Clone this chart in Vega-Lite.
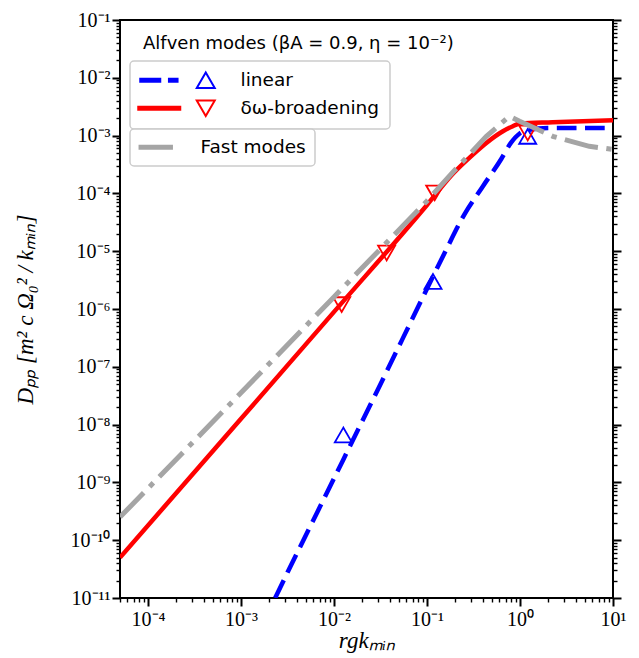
{
  "$schema": "https://vega.github.io/schema/vega-lite/v6.json",
  "width": 493,
  "height": 578,
  "autosize": "none",
  "padding": {"left": 120, "top": 20, "right": 26, "bottom": 60},
  "background": "white",
  "title": {"text": "Alfven modes (βA = 0.9, η = 10⁻²)", "anchor": "start", "frame": "group", "orient": "top", "offset": -43, "dx": 23, "font": "DejaVu Sans", "fontSize": 18, "fontWeight": "normal", "color": "black"},
  "datasets": {
    "curves": [
      {"series": "linear", "x": 0.00233, "y": 1e-11},
      {"series": "linear", "x": 0.00316, "y": 2.75e-11},
      {"series": "linear", "x": 0.01, "y": 1.17e-9},
      {"series": "linear", "x": 0.0316, "y": 5.01e-8},
      {"series": "linear", "x": 0.1, "y": 2.24e-6},
      {"series": "linear", "x": 0.158, "y": 1.0e-5},
      {"series": "linear", "x": 0.251, "y": 4.27e-5},
      {"series": "linear", "x": 0.398, "y": 1.32e-4},
      {"series": "linear", "x": 0.631, "y": 3.98e-4},
      {"series": "linear", "x": 0.794, "y": 7.41e-4},
      {"series": "linear", "x": 1.0, "y": 1.10e-3},
      {"series": "linear", "x": 1.26, "y": 1.26e-3},
      {"series": "linear", "x": 2.0, "y": 1.35e-3},
      {"series": "linear", "x": 10, "y": 1.36e-3},
      {"series": "δω-broadening", "x": 5e-5, "y": 5.01e-11},
      {"series": "δω-broadening", "x": 0.001, "y": 1.259e-8},
      {"series": "δω-broadening", "x": 0.01, "y": 8.91e-7},
      {"series": "δω-broadening", "x": 0.1, "y": 6.31e-5},
      {"series": "δω-broadening", "x": 0.19, "y": 2.19e-4},
      {"series": "δω-broadening", "x": 0.316, "y": 4.79e-4},
      {"series": "δω-broadening", "x": 0.435, "y": 7.46e-4},
      {"series": "δω-broadening", "x": 0.655, "y": 1.186e-3},
      {"series": "δω-broadening", "x": 0.838, "y": 1.449e-3},
      {"series": "δω-broadening", "x": 1.0, "y": 1.622e-3},
      {"series": "δω-broadening", "x": 2.24, "y": 1.698e-3},
      {"series": "δω-broadening", "x": 10, "y": 1.841e-3},
      {"series": "Fast modes", "x": 5e-5, "y": 2.51e-10},
      {"series": "Fast modes", "x": 0.001, "y": 3.55e-8},
      {"series": "Fast modes", "x": 0.01, "y": 1.62e-6},
      {"series": "Fast modes", "x": 0.1, "y": 7.41e-5},
      {"series": "Fast modes", "x": 0.19, "y": 2.34e-4},
      {"series": "Fast modes", "x": 0.435, "y": 9.73e-4},
      {"series": "Fast modes", "x": 0.77, "y": 2.16e-3},
      {"series": "Fast modes", "x": 0.99, "y": 1.77e-3},
      {"series": "Fast modes", "x": 2.25, "y": 9.73e-4},
      {"series": "Fast modes", "x": 5.56, "y": 6.53e-4},
      {"series": "Fast modes", "x": 10, "y": 5.75e-4}
    ],
    "markers": [
      {"series": "linear", "x": 0.0126, "y": 6.6e-9},
      {"series": "linear", "x": 0.116, "y": 3.0e-6},
      {"series": "linear", "x": 1.21, "y": 9.7e-4},
      {"series": "δω-broadening", "x": 0.0121, "y": 1.19e-6},
      {"series": "δω-broadening", "x": 0.0368, "y": 9.3e-6},
      {"series": "δω-broadening", "x": 0.121, "y": 1.02e-4},
      {"series": "δω-broadening", "x": 1.21, "y": 1.11e-3}
    ],
    "legendAlfven": [
      {"series": "linear"},
      {"series": "δω-broadening"}
    ],
    "legendFast": [
      {"series": "Fast modes"}
    ]
  },
  "layer": [
    {
      "data": {"name": "curves"},
      "transform": [{"filter": "datum.series === 'linear'"}],
      "mark": {"type": "line", "stroke": "#0000ff", "strokeWidth": 4.5, "strokeDash": [19.7, 8.5], "interpolate": "monotone", "clip": true},
      "encoding": {
        "x": {"field": "x", "type": "quantitative", "scale": {"type": "log", "domain": [5e-5, 10], "nice": false},
          "axis": {"values": [0.0001, 0.001, 0.01, 0.1, 1, 10], "domain": false, "ticks": true, "tickSize": 8, "tickColor": "#000000", "tickWidth": 2, "labelPadding": 3.5,
            "labelExpr": "['10⁻⁴','10⁻³','10⁻²','10⁻¹','10⁰','10¹'][round(log(datum.value)/LN10)+4]",
            "title": "rgkₘᵢₙ", "titleX": 246.5, "titleY": 31}},
        "y": {"field": "y", "type": "quantitative", "scale": {"type": "log", "domain": [1e-11, 0.1], "nice": false},
          "axis": {"values": [1e-11,2e-11,3e-11,4e-11,5e-11,6e-11,7e-11,8e-11,9e-11,1e-10,2e-10,3e-10,4e-10,5e-10,6e-10,7e-10,8e-10,9e-10,1e-9,2e-9,3e-9,4e-9,5e-9,6e-9,7e-9,8e-9,9e-9,1e-8,2e-8,3e-8,4e-8,5e-8,6e-8,7e-8,8e-8,9e-8,1e-7,2e-7,3e-7,4e-7,5e-7,6e-7,7e-7,8e-7,9e-7,1e-6,2e-6,3e-6,4e-6,5e-6,6e-6,7e-6,8e-6,9e-6,1e-5,2e-5,3e-5,4e-5,5e-5,6e-5,7e-5,8e-5,9e-5,1e-4,2e-4,3e-4,4e-4,5e-4,6e-4,7e-4,8e-4,9e-4,1e-3,2e-3,3e-3,4e-3,5e-3,6e-3,7e-3,8e-3,9e-3,1e-2,2e-2,3e-2,4e-2,5e-2,6e-2,7e-2,8e-2,9e-2,1e-1],
            "domain": false, "ticks": true, "tickSize": 8, "tickColor": "#000000",
            "tickDash": {"condition": {"test": "abs(log(datum.value)/LN10 - round(log(datum.value)/LN10)) < 0.001", "value": [10, 0]}, "value": [4, 30]},
            "tickWidth": {"condition": {"test": "abs(log(datum.value)/LN10 - round(log(datum.value)/LN10)) < 0.001", "value": 2}, "value": 1.4},
            "labelPadding": 2,
            "labelExpr": "abs(log(datum.value)/LN10 - round(log(datum.value)/LN10)) < 0.001 ? ['10⁰','10⁻¹','10⁻²','10⁻³','10⁻⁴','10⁻⁵','10⁻⁶','10⁻⁷','10⁻⁸','10⁻⁹','10⁻¹⁰','10⁻¹¹'][-round(log(datum.value)/LN10)] : ''",
            "title": "Dₚₚ  [m² c Ω₀² / kₘᵢₙ]", "titleX": -83, "titleY": 289}}
      }
    },
    {
      "data": {"name": "curves"},
      "transform": [{"filter": "datum.series === 'δω-broadening'"}],
      "mark": {"type": "line", "stroke": "#ff0000", "strokeWidth": 4.5, "interpolate": "monotone", "clip": true},
      "encoding": {
        "x": {"field": "x", "type": "quantitative", "scale": {"type": "log", "domain": [5e-5, 10], "nice": false},
          "axis": {"orient": "bottom", "values": [5e-5,6e-5,7e-5,8e-5,9e-5,2e-4,3e-4,4e-4,5e-4,6e-4,7e-4,8e-4,9e-4,2e-3,3e-3,4e-3,5e-3,6e-3,7e-3,8e-3,9e-3,2e-2,3e-2,4e-2,5e-2,6e-2,7e-2,8e-2,9e-2,0.2,0.3,0.4,0.5,0.6,0.7,0.8,0.9,2,3,4,5,6,7,8,9],
            "domain": false, "ticks": true, "tickSize": 4, "tickColor": "#000000", "tickWidth": 1.4, "labels": false, "title": null}},
        "y": {"field": "y", "type": "quantitative", "scale": {"type": "log", "domain": [1e-11, 0.1], "nice": false},
          "axis": {"orient": "right", "values": [1e-11,2e-11,3e-11,4e-11,5e-11,6e-11,7e-11,8e-11,9e-11,1e-10,2e-10,3e-10,4e-10,5e-10,6e-10,7e-10,8e-10,9e-10,1e-9,2e-9,3e-9,4e-9,5e-9,6e-9,7e-9,8e-9,9e-9,1e-8,2e-8,3e-8,4e-8,5e-8,6e-8,7e-8,8e-8,9e-8,1e-7,2e-7,3e-7,4e-7,5e-7,6e-7,7e-7,8e-7,9e-7,1e-6,2e-6,3e-6,4e-6,5e-6,6e-6,7e-6,8e-6,9e-6,1e-5,2e-5,3e-5,4e-5,5e-5,6e-5,7e-5,8e-5,9e-5,1e-4,2e-4,3e-4,4e-4,5e-4,6e-4,7e-4,8e-4,9e-4,1e-3,2e-3,3e-3,4e-3,5e-3,6e-3,7e-3,8e-3,9e-3,1e-2,2e-2,3e-2,4e-2,5e-2,6e-2,7e-2,8e-2,9e-2,1e-1],
            "domain": false, "ticks": true, "tickSize": 8, "tickColor": "#000000",
            "tickDash": {"condition": {"test": "abs(log(datum.value)/LN10 - round(log(datum.value)/LN10)) < 0.001", "value": [10, 0]}, "value": [4, 30]},
            "tickWidth": {"condition": {"test": "abs(log(datum.value)/LN10 - round(log(datum.value)/LN10)) < 0.001", "value": 2}, "value": 1.4},
            "labels": false, "title": null}}
      }
    },
    {
      "data": {"name": "markers"},
      "transform": [{"filter": "datum.series === 'linear'"}],
      "mark": {"type": "point", "shape": "triangle-up", "filled": false, "stroke": "#0000ff", "strokeWidth": 1.8, "size": 290, "opacity": 1},
      "encoding": {
        "x": {"field": "x", "type": "quantitative", "scale": {"type": "log", "domain": [5e-5, 10], "nice": false}, "axis": null},
        "y": {"field": "y", "type": "quantitative", "scale": {"type": "log", "domain": [1e-11, 0.1], "nice": false}, "axis": null}
      }
    },
    {
      "data": {"name": "markers"},
      "transform": [{"filter": "datum.series === 'δω-broadening'"}],
      "mark": {"type": "point", "shape": "triangle-down", "filled": false, "stroke": "#ff0000", "strokeWidth": 1.8, "size": 290, "opacity": 1},
      "encoding": {
        "x": {"field": "x", "type": "quantitative", "scale": {"type": "log", "domain": [5e-5, 10], "nice": false}, "axis": null},
        "y": {"field": "y", "type": "quantitative", "scale": {"type": "log", "domain": [1e-11, 0.1], "nice": false}, "axis": null}
      }
    },
    {
      "data": {"name": "curves"},
      "transform": [{"filter": "datum.series === 'Fast modes'"}],
      "mark": {"type": "line", "stroke": "#a5a5a5", "strokeWidth": 5, "strokeDash": [34, 8.5, 5.3, 8.5], "clip": true},
      "encoding": {
        "x": {"field": "x", "type": "quantitative", "scale": {"type": "log", "domain": [5e-5, 10], "nice": false}, "axis": null},
        "y": {"field": "y", "type": "quantitative", "scale": {"type": "log", "domain": [1e-11, 0.1], "nice": false}, "axis": null}
      }
    },
    {
      "data": {"name": "legendAlfven"},
      "mark": {"type": "point", "filled": true, "strokeWidth": 0, "opacity": 1},
      "encoding": {
        "x": {"field": "x", "type": "quantitative", "scale": {"type": "log", "domain": [5e-5, 10], "nice": false}, "axis": null},
        "y": {"field": "y", "type": "quantitative", "scale": {"type": "log", "domain": [1e-11, 0.1], "nice": false}, "axis": null},
        "color": {"field": "series", "type": "nominal",
          "scale": {"domain": ["linear", "δω-broadening"], "range": ["#0000ff", "#ff0000"]},
          "legend": {"orient": "none", "legendX": 10, "legendY": 41, "title": null, "direction": "vertical", "columns": 1, "symbolSize": 4, "symbolStrokeWidth": 0, "symbolOffset": -9, "labelOffset": 91, "padding": 10, "rowPadding": 9}},
        "shape": {"field": "series", "type": "nominal",
          "scale": {"domain": ["linear", "δω-broadening"], "range": [
            "M-1,-2.5H21V2.5H-1Z M27.7,-2.5H38.3V2.5H27.7Z M65.5,-9.8L76.23,8.8L54.77,8.8Z M65.5,-5.8L58.23,6.8L72.77,6.8Z",
            "M-3,-2.5H41V2.5H-3Z M65.5,9.8L54.77,-8.8L76.23,-8.8Z M65.5,5.8L72.77,-6.8L58.23,-6.8Z"]},
          "legend": {"orient": "none", "legendX": 10, "legendY": 41, "title": null, "direction": "vertical", "columns": 1, "symbolSize": 4, "symbolStrokeWidth": 0, "symbolOffset": -9, "labelOffset": 91, "padding": 10, "rowPadding": 9}}
      }
    },
    {
      "data": {"name": "legendFast"},
      "mark": {"type": "point", "filled": true, "strokeWidth": 0, "opacity": 1},
      "encoding": {
        "x": {"field": "x", "type": "quantitative", "scale": {"type": "log", "domain": [5e-5, 10], "nice": false}, "axis": null},
        "y": {"field": "y", "type": "quantitative", "scale": {"type": "log", "domain": [1e-11, 0.1], "nice": false}, "axis": null},
        "fill": {"field": "series", "type": "nominal",
          "scale": {"domain": ["Fast modes"], "range": ["#a5a5a5"]},
          "legend": {"orient": "none", "legendX": 10, "legendY": 109, "title": null, "direction": "vertical", "columns": 1, "symbolType": "M-1.7,-2.5H32.7V2.5H-1.7Z", "symbolSize": 4, "symbolStrokeWidth": 0, "symbolOffset": -8, "labelOffset": 51, "padding": 9}}
      }
    }
  ],
  "resolve": {"axis": {"x": "independent", "y": "independent"}},
  "config": {
    "view": {"stroke": "black", "strokeWidth": 2},
    "axis": {"domain": false, "grid": false, "labelFont": "Liberation Serif", "labelFontSize": 20, "labelColor": "black", "tickColor": "#000000", "titleFont": "Liberation Serif", "titleFontSize": 23, "titleFontStyle": "italic", "titleFontWeight": "normal", "titleColor": "black", "labelFlush": false},
    "legend": {"labelFont": "DejaVu Sans", "labelFontSize": 18.5, "labelColor": "black", "labelLimit": 300, "strokeColor": "#cccccc", "strokeWidth": 1.5, "fillColor": "rgba(255,255,255,0.8)", "cornerRadius": 4}
  }
}
